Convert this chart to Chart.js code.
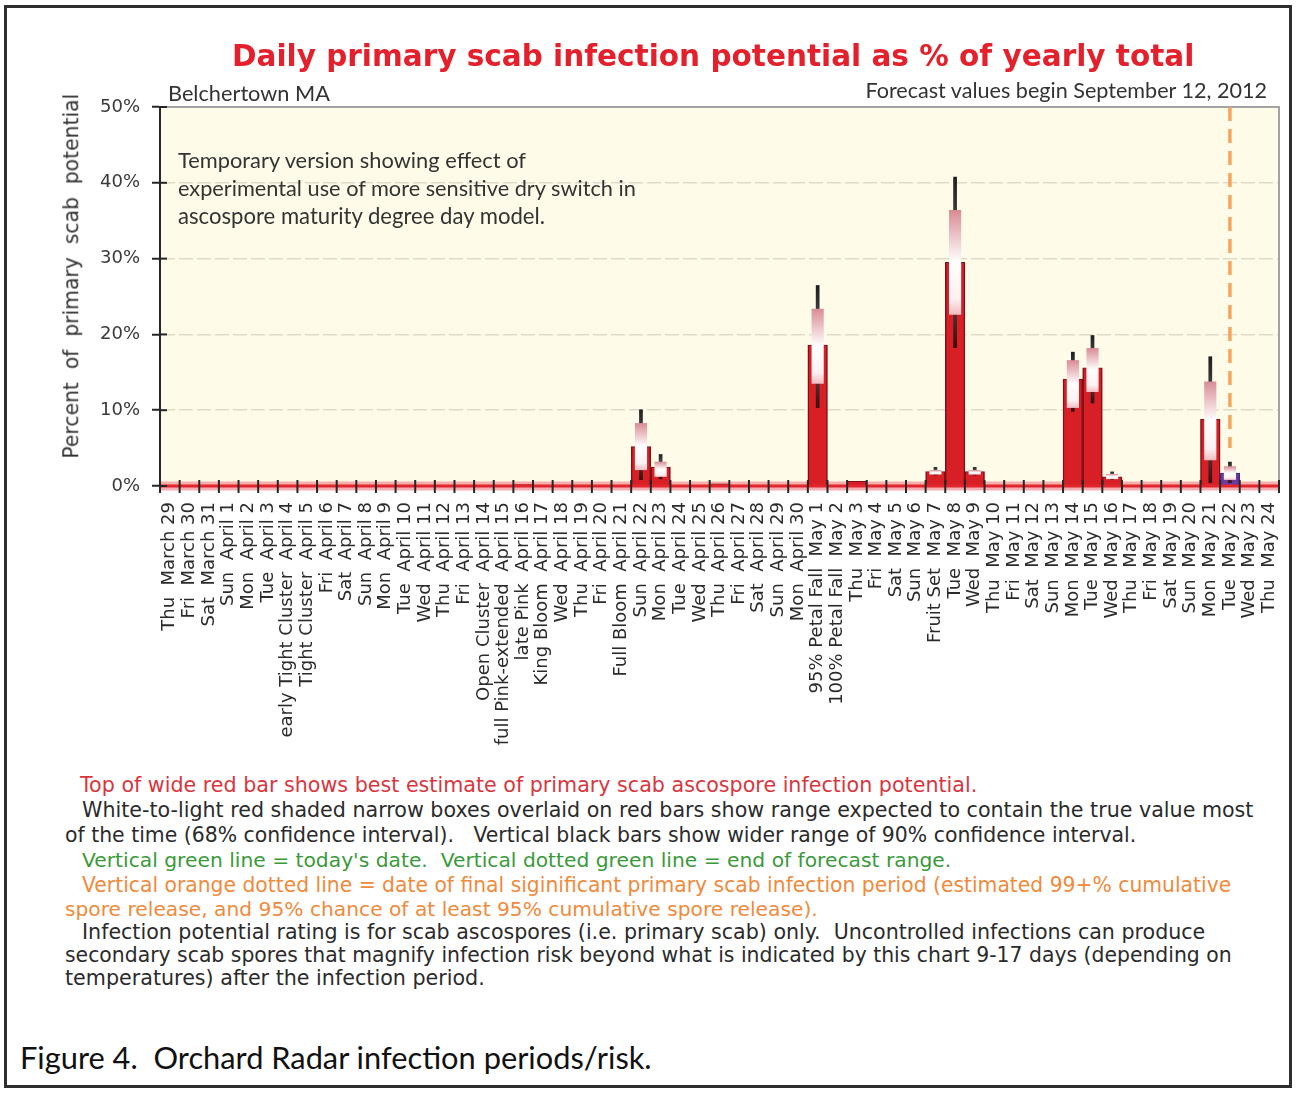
<!DOCTYPE html>
<html><head><meta charset="utf-8">
<script src="https://cdn.jsdelivr.net/npm/chart.js@4.4.0/dist/chart.umd.min.js"></script>
<style>
html,body{margin:0;padding:0;background:#fff;}
body{width:1300px;height:1095px;position:relative;overflow:hidden;}
#frame{position:absolute;left:4px;top:5px;width:1288px;height:1083px;border:3px solid #2e2e2e;box-sizing:border-box;}
#wrap{position:absolute;left:0;top:0;width:1300px;height:770px;}
.t{position:absolute;white-space:pre;line-height:1.2;}
</style></head><body>
<div id="frame"></div>
<div id="wrap"><canvas id="c" width="1300" height="770"></canvas></div>
<script>
// ---------------- DATA ----------------
const categories = [
 'Thu  March 29','Fri  March 30','Sat  March 31','Sun  April 1','Mon  April 2','Tue  April 3',
 'early Tight Cluster  April 4','Tight Cluster  April 5','Fri  April 6','Sat  April 7','Sun  April 8',
 'Mon  April 9','Tue  April 10','Wed  April 11','Thu  April 12','Fri  April 13','Open Cluster  April 14',
 'full Pink-extended  April 15','late Pink  April 16','King Bloom  April 17','Wed  April 18','Thu  April 19',
 'Fri  April 20','Full Bloom  April 21','Sun  April 22','Mon  April 23','Tue  April 24','Wed  April 25',
 'Thu  April 26','Fri  April 27','Sat  April 28','Sun  April 29','Mon  April 30','95% Petal Fall  May 1',
 '100% Petal Fall  May 2','Thu  May 3','Fri  May 4','Sat  May 5','Sun  May 6','Fruit Set  May 7',
 'Tue  May 8','Wed  May 9','Thu  May 10','Fri  May 11','Sat  May 12','Sun  May 13','Mon  May 14',
 'Tue  May 15','Wed  May 16','Thu  May 17','Fri  May 18','Sat  May 19','Sun  May 20','Mon  May 21',
 'Tue  May 22','Wed  May 23','Thu  May 24'
];
// best estimate of infection potential (% of yearly total)
const bestEstimate = [
 0,0,0,0,0,0,0,0,0,0,0,0,0,0,0,0,0,0,0.2,0,0,0,0,0,5.2,2.5,0,0,0.3,0,0,0,0,
 18.6,0,0.6,0,0,0,1.9,29.5,1.9,0,0,0,0,14.1,15.6,1.2,0,0,0,0,8.8,1.7,0,0
];
// 68% confidence interval (narrow shaded boxes)
const ci68Low = [
 null,null,null,null,null,null,null,null,null,null,null,null,null,null,null,null,null,null,null,null,null,null,null,null,
 2.1,1.2,null,null,null,null,null,null,null,13.5,null,null,null,null,null,1.5,22.6,1.5,null,null,null,null,10.3,12.4,0.9,
 null,null,null,null,3.4,0.8,null,null
];
const ci68High = [
 null,null,null,null,null,null,null,null,null,null,null,null,null,null,null,null,null,null,null,null,null,null,null,null,
 8.3,3.2,null,null,null,null,null,null,null,23.4,null,null,null,null,null,2.1,36.4,2.1,null,null,null,null,16.6,18.2,1.6,
 null,null,null,null,13.8,2.6,null,null
];
// 90% confidence interval (vertical black bars)
const ci90Low = [
 null,null,null,null,null,null,null,null,null,null,null,null,null,null,null,null,null,null,null,null,null,null,null,null,
 0.8,0.9,null,null,null,null,null,null,null,10.3,null,null,null,null,null,1.4,18.2,1.4,null,null,null,null,9.8,10.9,0.8,
 null,null,null,null,0.4,0.4,null,null
];
const ci90High = [
 null,null,null,null,null,null,null,null,null,null,null,null,null,null,null,null,null,null,null,null,null,null,null,null,
 10.1,4.2,null,null,null,null,null,null,null,26.5,null,null,null,null,null,2.5,40.8,2.5,null,null,null,null,17.7,19.9,1.9,
 null,null,null,null,17.1,3.2,null,null
];
const yTickValues = [0,10,20,30,40,50];
const finalInfectionDate = 'Tue  May 22';   // orange dotted line
const forecastStartDate = 'Tue  May 22';    // forecast bars shown in purple

const titleText = 'Daily primary scab infection potential as % of yearly total';
const stationText = 'Belchertown MA';
const forecastText = 'Forecast values begin September 12, 2012';
const yTitleText = 'Percent  of  primary  scab  potential';
const annotationLines = [
 'Temporary version showing effect of',
 'experimental use of more sensitive dry switch in',
 'ascospore maturity degree day model.'
];
const noteLines = [
 'Top of wide red bar shows best estimate of primary scab ascospore infection potential.',
 'White-to-light red shaded narrow boxes overlaid on red bars show range expected to contain the true value most',
 'of the time (68% confidence interval).   Vertical black bars show wider range of 90% confidence interval.',
 "Vertical green line = today's date.  Vertical dotted green line = end of forecast range.",
 'Vertical orange dotted line = date of final siginificant primary scab infection period (estimated 99+% cumulative',
 'spore release, and 95% chance of at least 95% cumulative spore release).',
 'Infection potential rating is for scab ascospores (i.e. primary scab) only.  Uncontrolled infections can produce',
 'secondary scab spores that magnify infection risk beyond what is indicated by this chart 9-17 days (depending on',
 'temperatures) after the infection period.'
];
const captionText = 'Figure 4.  Orchard Radar infection periods/risk.';

// ---------------- CHART ----------------
const forecastIdx = categories.indexOf(forecastStartDate);
const finalIdx = categories.indexOf(finalInfectionDate);
const ci68 = ci68Low.map((l,i)=> l==null ? null : [l, ci68High[i]]);
const ci90 = ci90Low.map((l,i)=> l==null ? null : [l, ci90High[i]]);

function boxFill(ctx){
  const chart = ctx.chart, v = ctx.raw;
  if(!v || !chart.chartArea || !chart.scales.y) return '#fbe4e6';
  const ys = chart.scales.y;
  const top = ys.getPixelForValue(v[1]), bot = ys.getPixelForValue(v[0]);
  if(!isFinite(top) || !isFinite(bot) || bot - top < 1) return '#ffffff';
  const g = chart.ctx.createLinearGradient(0, top, 0, bot);
  g.addColorStop(0, '#d98b94');
  g.addColorStop(0.5, '#ffffff');
  g.addColorStop(0.85, '#fdf0f1');
  g.addColorStop(1, '#efbcc1');
  return g;
}
function whiskerFill(ctx){
  const chart = ctx.chart, v = ctx.raw;
  if(!v || !chart.chartArea || !chart.scales.y) return '#333';
  const ys = chart.scales.y;
  const top = ys.getPixelForValue(v[1]), bot = ys.getPixelForValue(v[0]);
  if(!isFinite(top) || !isFinite(bot) || bot - top < 1) return '#333';
  const g = chart.ctx.createLinearGradient(0, top, 0, bot);
  g.addColorStop(0, '#1e1e1e');
  g.addColorStop(0.5, '#666');
  g.addColorStop(1, '#3a0c0c');
  return g;
}

const plotDecor = {
  id: 'plotDecor',
  beforeDraw(chart){
    const {ctx, chartArea:a} = chart;
    ctx.save();
    ctx.fillStyle = '#fefce9';
    ctx.fillRect(a.left, a.top, a.right - a.left, a.bottom - a.top);
    ctx.restore();
  },
  beforeDatasetsDraw(chart){
    const {ctx, chartArea:a} = chart;
    const y0 = chart.scales.y.getPixelForValue(0);
    ctx.save();
    ctx.strokeStyle = 'rgba(236,110,118,0.55)';
    ctx.lineWidth = 9;
    ctx.beginPath(); ctx.moveTo(a.left, y0); ctx.lineTo(a.right, y0); ctx.stroke();
    ctx.restore();
  },
  afterDatasetsDraw(chart){
    const {ctx, chartArea:a} = chart;
    const xs = chart.scales.x, ys = chart.scales.y;
    const y0 = ys.getPixelForValue(0);
    ctx.save();
    ctx.strokeStyle = '#a3a3a3'; ctx.lineWidth = 2;
    ctx.beginPath(); ctx.moveTo(a.left, a.top); ctx.lineTo(a.right, a.top); ctx.lineTo(a.right, y0); ctx.stroke();
    ctx.strokeStyle = '#e2262e'; ctx.lineWidth = 3;
    ctx.beginPath(); ctx.moveTo(a.left, y0); ctx.lineTo(a.right, y0); ctx.stroke();
    const half = (xs.getPixelForValue(1) - xs.getPixelForValue(0)) / 2;
    ctx.strokeStyle = '#262626'; ctx.lineWidth = 2;
    for(let i = 0; i <= categories.length; i++){
      const x = (i < categories.length ? xs.getPixelForValue(i) - half : xs.getPixelForValue(i-1) + half);
      ctx.beginPath(); ctx.moveTo(x, y0 - 6); ctx.lineTo(x, y0 + 7); ctx.stroke();
    }
    yTickValues.forEach(v => {
      const y = ys.getPixelForValue(v);
      ctx.beginPath(); ctx.moveTo(a.left, y); ctx.lineTo(a.left + 7, y); ctx.stroke();
    });
    const xo = xs.getPixelForValue(finalIdx);
    ctx.strokeStyle = '#f5a65e'; ctx.lineWidth = 3.5; ctx.setLineDash([14, 8]);
    ctx.beginPath(); ctx.moveTo(xo, ys.getPixelForValue(50)); ctx.lineTo(xo, ys.getPixelForValue(5)); ctx.stroke();
    ctx.restore();
  }
};

new Chart(document.getElementById('c'), {
  type: 'bar',
  data: {
    labels: categories,
    datasets: [
      {
        label: 'Best estimate', data: bestEstimate, grouped: false, order: 3,
        backgroundColor: ctx => ctx.dataIndex >= forecastIdx ? '#6a3a9e' : '#d91f26',
        borderColor: ctx => ctx.dataIndex >= forecastIdx ? '#3a2a8a' : '#7e1016',
        borderWidth: {top: 1, left: 1.5, right: 1.5, bottom: 0},
        borderSkipped: 'start',
        barPercentage: 1.0, categoryPercentage: 1.0
      },
      {
        label: '90% confidence interval', data: ci90, grouped: false, order: 2,
        backgroundColor: whiskerFill, borderWidth: 0,
        barPercentage: 0.19, categoryPercentage: 1.0
      },
      {
        label: '68% confidence interval', data: ci68, grouped: false, order: 1,
        backgroundColor: boxFill, borderWidth: 0,
        barPercentage: 0.62, categoryPercentage: 1.0
      }
    ]
  },
  options: {
    responsive: false, animation: false, devicePixelRatio: 1,
    layout: {padding: {top: 107, right: 21, bottom: 0, left: 0}},
    plugins: {legend: {display: false}, tooltip: {enabled: false}},
    scales: {
      x: {
        offset: true,
        grid: {display: false},
        border: {display: false},
        ticks: {
          autoSkip: false, maxRotation: 90, minRotation: 90, padding: 8,
          font: {family: 'DejaVu Sans', size: 18}, color: '#2b2b2b'
        },
        afterFit(s){ s.height = 284; }
      },
      y: {
        min: 0, max: 50,
        afterBuildTicks(s){ s.ticks = yTickValues.map(v => ({value: v})); },
        ticks: {
          callback: v => v + '%', padding: 12,
          font: {family: 'DejaVu Sans', size: 18}, color: '#3a3a3a'
        },
        grid: {
          drawOnChartArea: true, drawTicks: true, tickLength: 8,
          color: ctx => (ctx.tick && (ctx.tick.value === 0 || ctx.tick.value === 50)) ? 'rgba(0,0,0,0)' : 'rgba(90,90,70,0.2)',
          lineWidth: 1.5, tickColor: '#262626', tickWidth: 2, tickBorderDash: []
        },
        border: {display: true, color: '#262626', width: 2, dash: [14, 4]},
        afterFit(s){ s.width = 160; }
      }
    }
  },
  plugins: [plotDecor]
});

// ---------------- TEXT ----------------
function place(text, o){
  const d = document.createElement('div');
  d.className = 't'; d.textContent = text;
  d.style.fontFamily = o.font; d.style.fontSize = o.size + 'px'; d.style.color = o.color;
  if(o.bold) d.style.fontWeight = 'bold';
  document.body.appendChild(d);
  if(o.w){ const w = d.getBoundingClientRect().width; d.style.fontSize = (o.size * o.w / w) + 'px'; }
  const r = d.getBoundingClientRect();
  let left = o.x;
  if(o.align === 'right') left = o.x - r.width;
  if(o.align === 'center' || o.rot) left = o.x - r.width / 2;
  d.style.left = left + 'px';
  d.style.top = (o.cy - r.height / 2) + 'px';
  if(o.rot) d.style.transform = 'rotate(-90deg)';
  return d;
}
function drawTexts(){
  document.querySelectorAll('.t').forEach(e => e.remove());
  const DV = '"DejaVu Sans", Verdana, sans-serif';
  const CAL = 'Lato, "Open Sans", sans-serif';
  place(titleText, {font: DV, bold: true, size: 28, color: '#e3202b', x: 232, cy: 57, w: 963});
  place(stationText, {font: CAL, size: 20, color: '#333', x: 168, cy: 93, w: 162});
  place(forecastText, {font: CAL, size: 20, color: '#333', x: 1267, cy: 91, w: 402, align: 'right'});
  const annW = [348, 458, 367], annY = [160, 188, 216];
  annotationLines.forEach((s,i) => place(s, {font: CAL, size: 20, color: '#333', x: 178, cy: annY[i], w: annW[i]}));
  place(yTitleText, {font: DV, size: 19, color: '#333', x: 71, cy: 276, w: 365, rot: true});
  const nx = [80, 82, 65, 82, 82, 65, 82, 65, 65];
  const ne = [978, 1254, 1137, 952, 1232, 818, 1206, 1233, 485];
  const ny = [785, 810, 835, 860, 885, 909, 932, 955, 978];
  const nc = ['#d9363e', '#2b2b2b', '#2b2b2b', '#3a9a3a', '#f08a3c', '#f08a3c', '#2b2b2b', '#2b2b2b', '#2b2b2b'];
  noteLines.forEach((s,i) => place(s, {font: DV, size: 18, color: nc[i], x: nx[i], cy: ny[i], w: ne[i] - nx[i]}));
  place(captionText, {font: CAL, size: 26, color: '#111', x: 20, cy: 1058, w: 632});
}
drawTexts();
if(document.fonts && document.fonts.ready) document.fonts.ready.then(drawTexts);
</script>
</body></html>
